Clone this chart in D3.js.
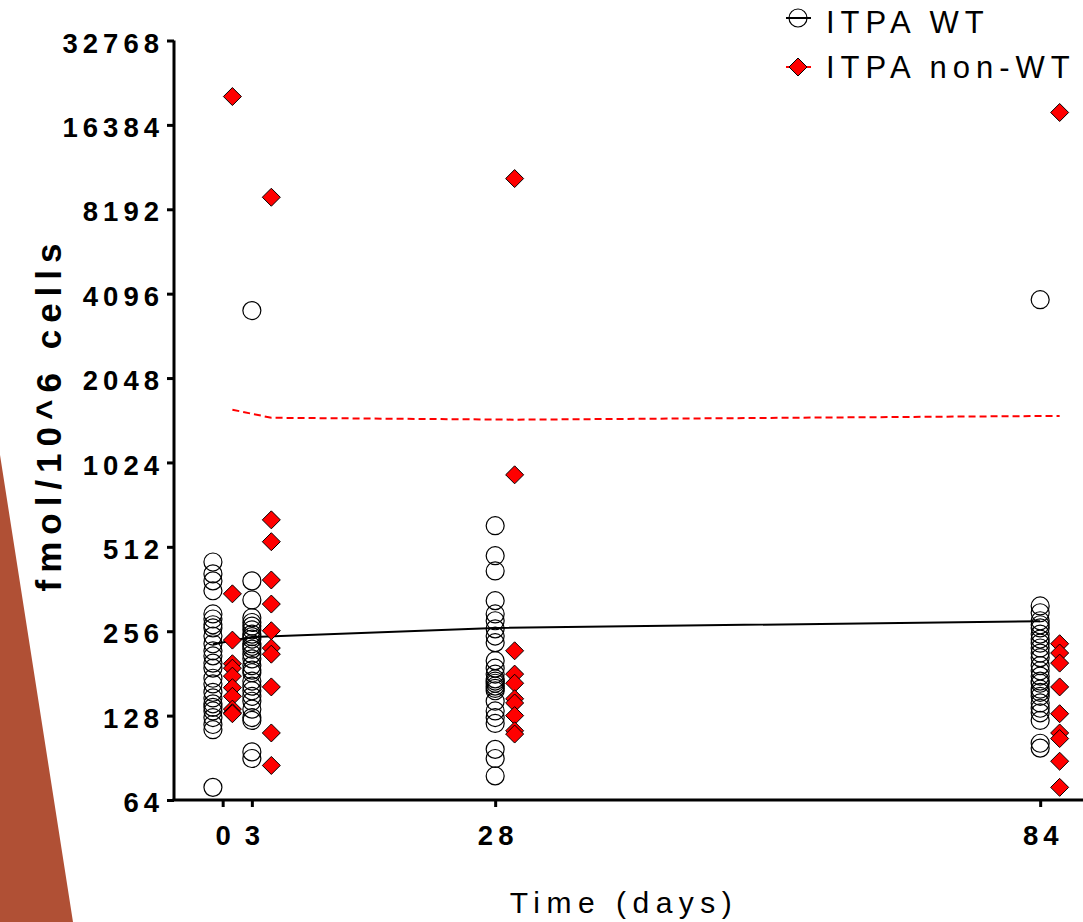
<!DOCTYPE html>
<html>
<head>
<meta charset="utf-8">
<script src="https://cdn.jsdelivr.net/npm/d3@7"></script>
<style>
  html, body { margin: 0; padding: 0; background: #fff; }
  svg { display: block; }
  text { font-family: "Liberation Sans", Arial, sans-serif; fill: #000; }
</style>
</head>
<body>
<svg id="chart" width="1083" height="922"></svg>
<script>
// Sampling days
const days = [0, 3, 28, 84];

// Individual measurements, fmol per 10^6 cells, one list per day
const wtDay0  = [452, 410, 387, 357, 295, 283, 270, 263, 246, 231, 218, 209, 197, 189, 174, 166, 155, 148, 141, 137, 133, 126, 119, 114, 71];
const wtDay3  = [3565, 387, 331, 286, 275, 267, 259, 250, 245, 240, 231, 226, 221, 212, 204, 193, 186, 182, 170, 163, 157, 150, 144, 135, 126, 123, 95, 90];
const wtDay28 = [609, 476, 420, 329, 295, 279, 261, 246, 233, 201, 189, 180, 173, 170, 167, 163, 160, 157, 144, 133, 126, 120, 97, 90, 78];
const wtDay84 = [3898, 315, 298, 279, 270, 263, 250, 240, 232, 223, 214, 206, 193, 185, 177, 170, 167, 159, 155, 150, 142, 136, 131, 123, 102, 98];

const nonWtDay0  = [20680, 348, 238, 196, 189, 177, 161, 150, 135, 131, 130];
const nonWtDay3  = [9043, 639, 534, 390, 320, 257, 223, 212, 162, 111, 85];
const nonWtDay28 = [10543, 925, 218, 180, 167, 147, 142, 128, 113, 110];
const nonWtDay84 = [18140, 231, 214, 197, 162, 130, 111, 106, 88, 71];

// Group means per day
const wtMeans    = [230, 244, 263, 278];
const nonWtMeans = [1579, 1478, 1455, 1501];

// Axis ticks
const yTickValues = [64, 128, 256, 512, 1024, 2048, 4096, 8192, 16384, 32768];
const xTickValues = [0, 3, 28, 84];

const seriesNames = ["ITPA WT", "ITPA non-WT"];

const wtByDay = [wtDay0, wtDay3, wtDay28, wtDay84];
const nonWtByDay = [nonWtDay0, nonWtDay3, nonWtDay28, nonWtDay84];

const svg = d3.select("#chart");

// decorative wedge at the lower-left edge
svg.append("path")
  .attr("d", "M0,455 L73,922 L0,922 Z")
  .attr("fill", "#b05035");

const x = d3.scaleLinear().domain([-5, 88.4]).range([174, 1083]);
const y = d3.scaleLog().base(2).domain([64, 32768]).range([800, 40.5]);

// horizontal nudges (in days) so the two groups sit side by side
const wtShift = [-1, 0, 0, 0];
const nonWtShift = [1, 2, 2, 2];

// y axis
const yAxis = svg.append("g")
  .attr("transform", "translate(174,0)")
  .call(d3.axisLeft(y).tickValues(yTickValues).tickFormat(d3.format("d")).tickSize(7).tickPadding(3));
yAxis.select(".domain").attr("stroke", "#000").attr("stroke-width", 3).attr("d", "M0,40.5V800");
yAxis.selectAll(".tick line").attr("stroke", "#000").attr("stroke-width", 3);
yAxis.selectAll(".tick text")
  .attr("font-size", 27.5).attr("font-weight", "bold")
  .attr("dy", "0.42em")
  .style("letter-spacing", "5px")
  .style("font-family", '"Liberation Sans", Arial, sans-serif');

// x axis
const xAxis = svg.append("g")
  .attr("transform", "translate(0,800)")
  .call(d3.axisBottom(x).tickValues(xTickValues).tickSize(7).tickPadding(18));
xAxis.select(".domain").attr("stroke", "#000").attr("stroke-width", 3).attr("d", "M172.5,0H1083");
xAxis.selectAll(".tick line").attr("stroke", "#000").attr("stroke-width", 3);
xAxis.selectAll(".tick text")
  .attr("font-size", 27.5).attr("font-weight", "bold")
  .attr("dx", "2.5px")
  .style("letter-spacing", "5px")
  .style("font-family", '"Liberation Sans", Arial, sans-serif');

// axis titles
svg.append("text")
  .attr("transform", "translate(61,414) rotate(-90)")
  .attr("text-anchor", "middle")
  .attr("font-size", 35).attr("font-weight", "bold")
  .style("letter-spacing", "7px")
  .text("fmol/10^6 cells");

svg.append("text")
  .attr("x", 624).attr("y", 913)
  .attr("text-anchor", "middle")
  .attr("font-size", 30)
  .style("letter-spacing", "6.5px")
  .text("Time (days)");

// mean lines
const line = d3.line().x(d => d[0]).y(d => d[1]);
svg.append("path")
  .datum(days.map((d, i) => [x(d + wtShift[i]), y(wtMeans[i])]))
  .attr("d", line)
  .attr("fill", "none").attr("stroke", "#000").attr("stroke-width", 2);
svg.append("path")
  .datum(days.map((d, i) => [x(d + nonWtShift[i]), y(nonWtMeans[i])]))
  .attr("d", line)
  .attr("fill", "none").attr("stroke", "#ff0000").attr("stroke-width", 2)
  .attr("stroke-dasharray", "7,4");

// WT points: open circles
const wtPoints = wtByDay.flatMap((vals, i) => vals.map(v => ({ day: days[i], i, v })));
svg.append("g").selectAll("circle")
  .data(wtPoints).join("circle")
  .attr("cx", d => x(d.day + wtShift[d.i]))
  .attr("cy", d => y(d.v))
  .attr("r", 9)
  .attr("fill", "none").attr("stroke", "#000").attr("stroke-width", 1.2);

// non-WT points: filled diamonds
const diamond = "M0,-9L9,0L0,9L-9,0Z";
const nonWtPoints = nonWtByDay.flatMap((vals, i) => vals.map(v => ({ day: days[i], i, v })));
svg.append("g").selectAll("path")
  .data(nonWtPoints).join("path")
  .attr("transform", d => `translate(${x(d.day + nonWtShift[d.i])},${y(d.v)})`)
  .attr("d", diamond)
  .attr("fill", "#ff0000").attr("stroke", "#000").attr("stroke-width", 1);

// legend
const legend = svg.append("g");
legend.append("line").attr("x1", 786).attr("x2", 811).attr("y1", 18).attr("y2", 18)
  .attr("stroke", "#000").attr("stroke-width", 2);
legend.append("circle").attr("cx", 798).attr("cy", 18).attr("r", 9)
  .attr("fill", "none").attr("stroke", "#000").attr("stroke-width", 1.2);
legend.append("line").attr("x1", 786).attr("x2", 811).attr("y1", 67).attr("y2", 67)
  .attr("stroke", "#ff0000").attr("stroke-width", 2).attr("stroke-dasharray", "4,3");
legend.append("path").attr("transform", "translate(798,67)").attr("d", diamond)
  .attr("fill", "#ff0000").attr("stroke", "#000").attr("stroke-width", 1);
legend.selectAll("text.lg")
  .data(seriesNames).join("text")
  .attr("class", "lg")
  .attr("x", 826)
  .attr("y", (d, i) => 33 + i * 45)
  .attr("font-size", 31)
  .style("letter-spacing", "6px")
  .text(d => d);
</script>
</body>
</html>
